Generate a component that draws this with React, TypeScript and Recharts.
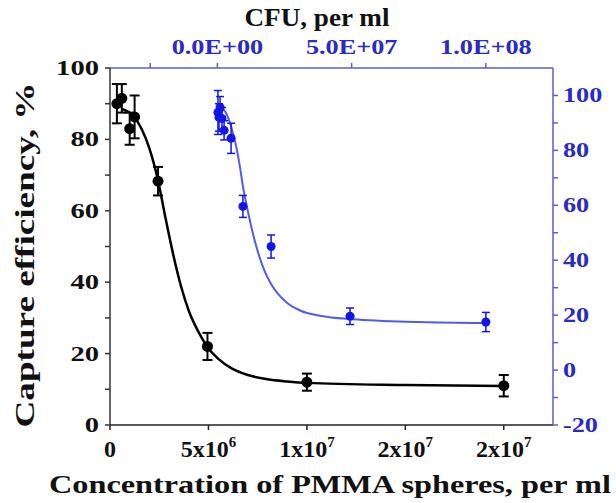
import React from 'react';
import {
  ComposedChart,
  Line,
  Scatter,
  ErrorBar,
  XAxis,
  YAxis
} from 'recharts';

// PMMA spheres (bottom / left axes)
const pmmaX = [0.35e6, 0.6e6, 1.0e6, 1.25e6, 2.44e6, 4.95e6, 1.0e7, 2.0e7];
const pmmaY = [90, 91.5, 83, 86.3, 68.3, 22, 12, 11];
const pmmaErr = [5.5, 4, 4.5, 6, 4, 3.8, 2.4, 3];

const pmmaFitX = [0.6e6, 1.2e6, 1.6e6, 2.0e6, 2.44e6, 2.8e6, 3.2e6, 3.6e6, 4.0e6, 4.5e6, 4.93e6, 5.5e6, 6.2e6, 7.0e6, 8.0e6, 9.0e6, 1.0e7, 1.5e7, 2.0e7];
const pmmaFitY = [88.5, 86.5, 83, 77.5, 68.5, 58.5, 48, 39, 32, 26, 22, 18.5, 15.8, 14, 12.8, 12.2, 11.8, 11.2, 10.9];

// CFU (top / right axes)
const cfuX = [0.2e6, 0.6e6, 1.0e6, 1.7e6, 2.5e6, 5.1e6, 9.5e6, 20e6, 49.4e6, 100e6];
const cfuY = [93.8, 92, 95.6, 91.6, 87.3, 84.4, 59.6, 45, 19.6, 17.5];
const cfuErr = [8, 5, 4, 4, 3.5, 5.5, 4, 4.2, 3, 3.5];

const cfuFitX = [1.0e6, 3.0e6, 4.7e6, 6.0e6, 7.3e6, 8.4e6, 9.5e6, 11e6, 12.8e6, 14.8e6, 17e6, 19.6e6, 22.5e6, 25.9e6, 31e6, 38.2e6, 50.5e6, 75.5e6, 100e6];
const cfuFitY = [95.6, 94, 90, 85.5, 80, 74, 67, 59.5, 51.5, 44, 37.5, 32, 27.8, 24.5, 21.6, 19.8, 18.5, 17.5, 17.1];

// ticks
const leftTicks = [0, 10, 20, 30, 40, 50, 60, 70, 80, 90, 100];
const rightTicks = [-20, -10, 0, 10, 20, 30, 40, 50, 60, 70, 80, 90, 100];
const bottomTicks = [0, 2.5e6, 5e6, 7.5e6, 1e7, 1.25e7, 1.5e7, 1.75e7, 2e7];
const bottomLabelValues = [0, 5e6, 1e7, 1.5e7, 2e7];
const bottomLabelBase = ['0', '5x10', '1x10', '2x10', '2x10'];
const bottomLabelExp = ['', '6', '7', '7', '7'];
const topTicks = [-2.5e7, 0, 2.5e7, 5e7, 7.5e7, 1e8];
const topLabelValues = [0, 5e7, 1e8];
const topLabelText = ['0.0E+00', '5.0E+07', '1.0E+08'];

const pmmaPoints = pmmaX.map((x, i) => ({ x, y: pmmaY[i], err: pmmaErr[i] }));
const pmmaFit = pmmaFitX.map((x, i) => ({ x, y: pmmaFitY[i] }));
const cfuPoints = cfuX.map((x, i) => ({ x, y: cfuY[i], err: cfuErr[i] }));
const cfuFit = cfuFitX.map((x, i) => ({ x, y: cfuFitY[i] }));

const FONT = '"Liberation Serif", "Times New Roman", serif';
const BLUE_AXIS = '#5b5bd6';
const BLUE_TEXT = '#2a2ac4';
const BLUE_DOT = '#1414e6';
const BLUE_LINE = '#4e5ee8';

function LeftTick({ x, y, payload }: any) {
  if (payload.value % 20 !== 0) return <g />;
  return (
    <g transform={`translate(${x},${y})`}>
      <text textAnchor="end" dy={7} transform="scale(1.3,1)" fontFamily={FONT} fontWeight="bold" fontSize={22} fill="#111">
        {payload.value}
      </text>
    </g>
  );
}

function RightTick({ x, y, payload }: any) {
  if (payload.value % 20 !== 0) return <g />;
  return (
    <g transform={`translate(${x},${y})`}>
      <text textAnchor="start" dy={7} transform="scale(1.25,1)" fontFamily={FONT} fontWeight="bold" fontSize={21} fill={BLUE_TEXT}>
        {payload.value}
      </text>
    </g>
  );
}

function TopTick({ x, y, payload }: any) {
  const i = topLabelValues.indexOf(payload.value);
  if (i < 0) return <g />;
  return (
    <g transform={`translate(${x},${y})`}>
      <text textAnchor="middle" dy={-1} transform="scale(1.25,1)" fontFamily={FONT} fontWeight="bold" fontSize={21} fill={BLUE_TEXT}>
        {topLabelText[i]}
      </text>
    </g>
  );
}

function BottomTick({ x, y, payload }: any) {
  const i = bottomLabelValues.indexOf(payload.value);
  if (i < 0) return <g />;
  return (
    <text x={x} y={y} dy={23} textAnchor="middle" fontFamily={FONT} fontWeight="bold" fontSize={24} fill="#111">
      {bottomLabelBase[i]}
      {bottomLabelExp[i] && (
        <tspan dy={-10} fontSize={15}>{bottomLabelExp[i]}</tspan>
      )}
    </text>
  );
}

const blackDot = (p: any) => <circle cx={p.cx} cy={p.cy} r={5.5} fill="#000" />;
const blueDot = (p: any) => <circle cx={p.cx} cy={p.cy} r={4.5} fill={BLUE_DOT} />;

export default function App() {
  return (
    <div style={{ position: 'absolute', left: 0, top: 0, width: 616, height: 503, background: '#fff' }}>
      <ComposedChart width={616} height={503} margin={{ top: 28, right: 13, bottom: 38, left: 50 }}>
        <XAxis
          xAxisId="pmma"
          dataKey="x"
          type="number"
          orientation="bottom"
          domain={[0, 2.25e7]}
          ticks={bottomTicks}
          allowDataOverflow
          height={40}
          tickSize={5}
          tickMargin={4}
          stroke="#222"
          strokeWidth={1.5}
          tick={<BottomTick />}
        />
        <XAxis
          xAxisId="cfu"
          dataKey="x"
          type="number"
          orientation="top"
          domain={[-4e7, 1.25e8]}
          ticks={topTicks}
          allowDataOverflow
          height={40}
          tickSize={5}
          tickMargin={8}
          stroke={BLUE_AXIS}
          strokeWidth={1.5}
          tick={<TopTick />}
        />
        <YAxis
          yAxisId="left"
          dataKey="y"
          type="number"
          domain={[0, 100]}
          ticks={leftTicks}
          allowDataOverflow
          width={60}
          tickSize={5}
          tickMargin={6}
          stroke="#333"
          strokeWidth={1.5}
          tick={<LeftTick />}
        />
        <YAxis
          yAxisId="right"
          dataKey="y"
          type="number"
          orientation="right"
          domain={[-20, 110]}
          ticks={rightTicks}
          allowDataOverflow
          width={50}
          tickSize={5}
          tickMargin={5}
          stroke={BLUE_AXIS}
          strokeWidth={1.5}
          tick={<RightTick />}
        />
        <Line
          xAxisId="pmma"
          yAxisId="left"
          data={pmmaFit}
          dataKey="y"
          type="monotone"
          dot={false}
          stroke="#000"
          strokeWidth={2.5}
          isAnimationActive={false}
        />
        <Line
          xAxisId="cfu"
          yAxisId="right"
          data={cfuFit}
          dataKey="y"
          type="monotone"
          dot={false}
          stroke={BLUE_LINE}
          strokeWidth={2}
          isAnimationActive={false}
        />
        <Scatter xAxisId="pmma" yAxisId="left" data={pmmaPoints} dataKey="y" shape={blackDot} isAnimationActive={false}>
          <ErrorBar dataKey="err" direction="y" width={5} stroke="#000" strokeWidth={2} />
        </Scatter>
        <Scatter xAxisId="cfu" yAxisId="right" data={cfuPoints} dataKey="y" shape={blueDot} isAnimationActive={false}>
          <ErrorBar dataKey="err" direction="y" width={4} stroke={BLUE_DOT} strokeWidth={1.5} />
        </Scatter>
      </ComposedChart>
      <svg width={616} height={503} style={{ position: 'absolute', left: 0, top: 0, pointerEvents: 'none' }}>
        <text x={317} y={26} textAnchor="middle" fontFamily={FONT} fontWeight="bold" fontSize={25} fill="#111" textLength={145} lengthAdjust="spacingAndGlyphs">
          CFU, per ml
        </text>
        <text
          transform="translate(34,255) rotate(-90)"
          textAnchor="middle"
          fontFamily={FONT}
          fontWeight="bold"
          fontSize={28}
          fill="#111"
          textLength={345}
          lengthAdjust="spacingAndGlyphs"
        >
          Capture efficiency, %
        </text>
        <text x={330} y={493} textAnchor="middle" fontFamily={FONT} fontWeight="bold" fontSize={25} fill="#111" textLength={562} lengthAdjust="spacingAndGlyphs">
          Concentration of PMMA spheres, per ml
        </text>
      </svg>
    </div>
  );
}
